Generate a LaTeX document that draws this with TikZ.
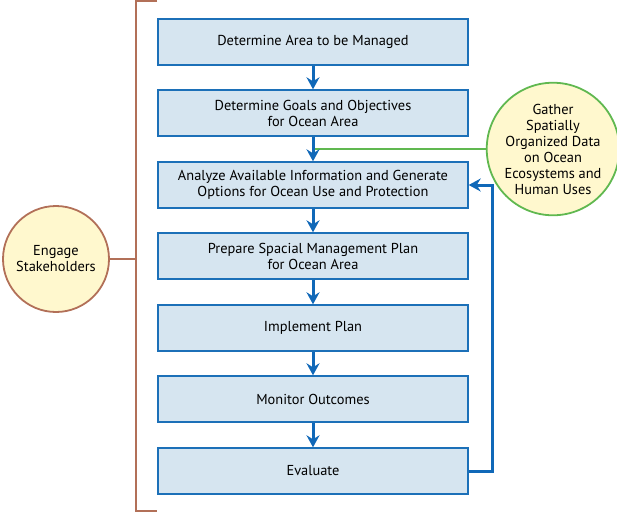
\documentclass[tikz,border=0pt]{standalone}
\usepackage{fontspec}
\setmainfont{PT Sans}
\usetikzlibrary{arrows.meta}
\definecolor{boxfill}{RGB}{214,229,240}
\definecolor{boxline}{RGB}{28,112,184}
\definecolor{arrowblue}{RGB}{16,104,184}
\definecolor{brownline}{RGB}{178,112,88}
\definecolor{greenline}{RGB}{96,184,80}
\definecolor{circfill}{RGB}{255,248,206}
\tikzset{
  stepbox/.style={draw=boxline, line width=1.4pt, fill=boxfill, minimum width=310pt, minimum height=46pt, align=center, font=\fontsize{14.4}{16}\selectfont, inner sep=0pt},
  flow/.style={draw=arrowblue, line width=3pt, -{Stealth[length=12pt,width=13pt,inset=4pt]}},
  circ/.style={circle, fill=circfill, line width=1.8pt, align=center, font=\fontsize{14.4}{16}\selectfont, inner sep=0pt}
}
\begin{document}
\begin{tikzpicture}[x=1pt,y=-1pt]
\useasboundingbox (0,0) rectangle (617,512);
\node[stepbox] (b1) at (313,42) {Determine Area to be Managed};
\node[stepbox] (b2) at (313,113) {Determine Goals and Objectives\\for Ocean Area};
\node[stepbox] (b3) at (313,185) {Analyze Available Information and Generate\\Options for Ocean Use and Protection};
\node[stepbox] (b4) at (313,256) {Prepare Spacial Management Plan\\for Ocean Area};
\node[stepbox] (b5) at (313,328) {Implement Plan};
\node[stepbox] (b6) at (313,399) {Monitor Outcomes};
\node[stepbox] (b7) at (313,471) {Evaluate};
\node[circ, draw=greenline, minimum size=126pt] (g) at (553,149) {Gather\\Spatially\\Organized Data\\on Ocean\\Ecosystems and\\Human Uses};
\node[circ, draw=brownline, minimum size=106pt] (e) at (56,259) {Engage\\Stakeholders};
\coordinate (gj) at (313,149);
\draw[greenline, line width=1.3pt] (g.west) -- (gj);
\foreach \a/\b in {b1/b2,b2/b3,b3/b4,b4/b5,b5/b6,b6/b7}
  \draw[flow] (\a.south) -- (\b.north);
\coordinate (fb1) at (492,471);
\coordinate (fb2) at (492,185);
\draw[flow] (b7.east) -- (fb1) -- (fb2) -- (b3.east);
\coordinate (bt0) at (157,1);
\coordinate (bt1) at (136,1);
\coordinate (bb1) at (136,511);
\coordinate (bb0) at (157,511);
\coordinate (bm) at (136,259);
\draw[brownline, line width=1.4pt] (bt0) -- (bt1) -- (bb1) -- (bb0);
\draw[brownline, line width=1.4pt] (e.east) -- (bm);
\end{tikzpicture}
\end{document}
